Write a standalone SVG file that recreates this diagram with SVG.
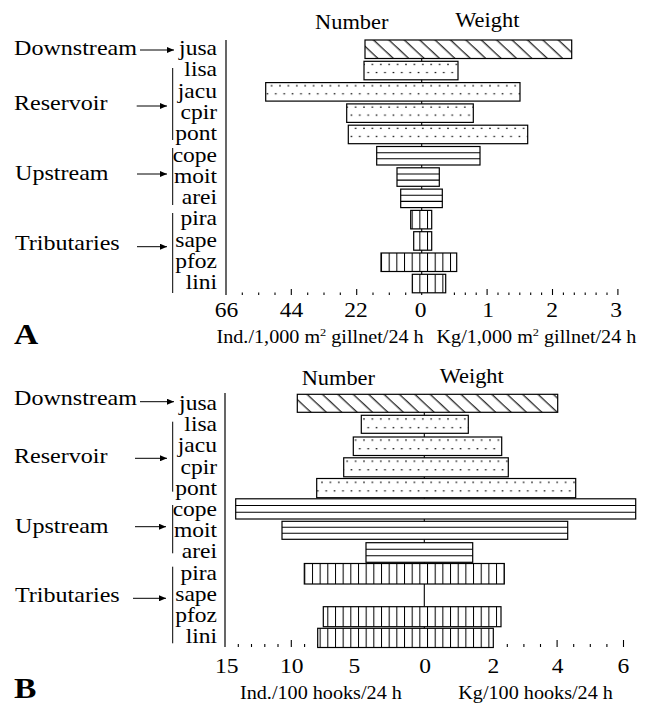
<svg xmlns="http://www.w3.org/2000/svg" width="646" height="704" viewBox="0 0 646 704">
<style>
text{font-family:"Liberation Serif","Times New Roman",serif;fill:#000}
.sp{font-size:21px;text-anchor:end}
.cat{font-size:21.5px}
.hd{font-size:20px;text-anchor:middle}
.tk{font-size:21px;text-anchor:middle}
.ttl{font-size:18px}
.pl{font-size:30px;font-weight:bold}
.bar{stroke:#000;stroke-width:1.2}
.plain{fill:#fff;stroke:#000;stroke-width:1.2}
.ln{stroke:#000;stroke-width:1.1;fill:none}
.axis{stroke:#000;stroke-width:1.2;fill:none}
.tick{stroke:#000;stroke-width:1.1}
.br{stroke:#000;stroke-width:1;fill:none}
.arr{stroke:#000;stroke-width:1;fill:none;marker-end:url(#ah)}
</style>
<defs>
<marker id="ah" markerUnits="userSpaceOnUse" markerWidth="8" markerHeight="6" refX="7" refY="3" orient="auto"><path d="M0,0 L7,3 L0,6 Z" fill="#000"/></marker>
<pattern id="hatch" patternUnits="userSpaceOnUse" width="10.5" height="10.5" patternTransform="rotate(-47)"><rect width="10.5" height="10.5" fill="#fff"/><line x1="5" y1="-1" x2="5" y2="11.5" stroke="#000" stroke-width="1.1"/></pattern>
<pattern id="dotsA" patternUnits="userSpaceOnUse" x="0" y="40" width="8.4" height="21.3"><rect width="8.4" height="21.3" fill="#fff"/><rect x="2" y="2.6" width="1.6" height="1.2" fill="#000"/><rect x="6.2" y="10.6" width="1.6" height="1.2" fill="#000"/></pattern>
<pattern id="dotsB" patternUnits="userSpaceOnUse" x="0" y="394.3" width="8.4" height="21.1"><rect width="8.4" height="21.1" fill="#fff"/><rect x="2" y="3" width="1.6" height="1.2" fill="#000"/><rect x="6.2" y="11.6" width="1.6" height="1.2" fill="#000"/></pattern>
<pattern id="vlA" patternUnits="userSpaceOnUse" x="381" y="0" width="7.67" height="20"><rect width="7.67" height="20" fill="#fff"/><rect x="0" y="0" width="1" height="20" fill="#000"/></pattern>
<pattern id="vlB" patternUnits="userSpaceOnUse" x="304.3" y="0" width="7.67" height="20"><rect width="7.67" height="20" fill="#fff"/><rect x="0" y="0" width="1" height="20" fill="#000"/></pattern>
</defs>
<rect width="646" height="704" fill="#fff"/>

<!-- ================= PANEL A ================= -->
<g id="A-panel">
<text class="pl" transform="matrix(1.12,0,0,1,14,344)">A</text>
<text class="hd" transform="matrix(1.12,0,0,1,351.7,29)">Number</text>
<text class="hd" transform="matrix(1.12,0,0,1,487.3,27)">Weight</text>
</g>

<g id="A-axis">
<line class="axis" x1="226" y1="40" x2="226" y2="295"/>
<line class="ln" x1="421.7" y1="40" x2="421.7" y2="295"/>
<g class="tick">
<line x1="242.3" y1="292.5" x2="242.3" y2="295"/><line x1="258.7" y1="292.5" x2="258.7" y2="295"/><line x1="275" y1="292.5" x2="275" y2="295"/><line x1="291.3" y1="289" x2="291.3" y2="295"/>
<line x1="307.7" y1="292.5" x2="307.7" y2="295"/><line x1="324" y1="292.5" x2="324" y2="295"/><line x1="340.3" y1="292.5" x2="340.3" y2="295"/><line x1="356.7" y1="289" x2="356.7" y2="295"/>
<line x1="373" y1="292.5" x2="373" y2="295"/><line x1="389.3" y1="292.5" x2="389.3" y2="295"/><line x1="405.7" y1="292.5" x2="405.7" y2="295"/>
<line x1="454.4" y1="292.5" x2="454.4" y2="295"/><line x1="465.3" y1="292.5" x2="465.3" y2="295"/><line x1="476.2" y1="292.5" x2="476.2" y2="295"/><line x1="487.1" y1="289" x2="487.1" y2="295"/>
<line x1="498" y1="292.5" x2="498" y2="295"/><line x1="508.9" y1="292.5" x2="508.9" y2="295"/><line x1="519.8" y1="292.5" x2="519.8" y2="295"/><line x1="530.7" y1="292.5" x2="530.7" y2="295"/><line x1="541.6" y1="292.5" x2="541.6" y2="295"/><line x1="552.5" y1="289" x2="552.5" y2="295"/>
<line x1="563.4" y1="292.5" x2="563.4" y2="295"/><line x1="574.3" y1="292.5" x2="574.3" y2="295"/><line x1="585.2" y1="292.5" x2="585.2" y2="295"/><line x1="596.1" y1="292.5" x2="596.1" y2="295"/><line x1="607" y1="292.5" x2="607" y2="295"/><line x1="617.9" y1="289" x2="617.9" y2="295"/>
</g>
<text class="tk" transform="matrix(1.12,0,0,1,226.5,316.5)">66</text>
<text class="tk" transform="matrix(1.12,0,0,1,291.5,316.5)">44</text>
<text class="tk" transform="matrix(1.12,0,0,1,356,316.5)">22</text>
<text class="tk" transform="matrix(1.12,0,0,1,420.5,316.5)">0</text>
<text class="tk" transform="matrix(1.12,0,0,1,488,316.5)">1</text>
<text class="tk" transform="matrix(1.12,0,0,1,552,316.5)">2</text>
<text class="tk" transform="matrix(1.12,0,0,1,616,316.5)">3</text>
<text class="ttl" transform="matrix(1.12,0,0,1,216.5,343)">Ind./1,000 m<tspan font-size="11" dy="-7">2</tspan><tspan dy="7"> gillnet/24 h</tspan></text>
<text class="ttl" transform="matrix(1.12,0,0,1,436.5,343)">Kg/1,000 m<tspan font-size="11" dy="-7">2</tspan><tspan dy="7"> gillnet/24 h</tspan></text>
</g>

<g id="A-groups">
<text class="cat" transform="matrix(1.12,0,0,1,14,55)">Downstream</text>
<text class="cat" transform="matrix(1.12,0,0,1,14,110)">Reservoir</text>
<line class="br" x1="172.7" y1="68" x2="172.7" y2="140"/>
<text class="cat" transform="matrix(1.12,0,0,1,15,180)">Upstream</text>
<line class="br" x1="172.7" y1="148" x2="172.7" y2="205"/>
<text class="cat" transform="matrix(1.12,0,0,1,15,250)">Tributaries</text>
<line class="br" x1="172.7" y1="213" x2="172.7" y2="293"/>
</g>

<g id="A-jusa"><text class="sp" transform="matrix(1.12,0,0,1,217,55)">jusa</text><rect class="bar" x="365" y="40" width="206.7" height="18.5" fill="url(#hatch)"/></g>
<g id="A-lisa"><text class="sp" transform="matrix(1.12,0,0,1,217,76.3)">lisa</text><rect class="bar" x="364" y="61.3" width="94" height="18.5" fill="url(#dotsA)"/></g>
<g id="A-jacu"><text class="sp" transform="matrix(1.12,0,0,1,217,97.6)">jacu</text><rect class="bar" x="265.7" y="82.6" width="254.3" height="18.5" fill="url(#dotsA)"/></g>
<g id="A-cpir"><text class="sp" transform="matrix(1.12,0,0,1,217,118.9)">cpir</text><rect class="bar" x="346.7" y="103.9" width="126.6" height="18.5" fill="url(#dotsA)"/></g>
<g id="A-pont"><text class="sp" transform="matrix(1.12,0,0,1,217,140.2)">pont</text><rect class="bar" x="348.3" y="125.2" width="179.4" height="18.5" fill="url(#dotsA)"/></g>
<g id="A-cope"><text class="sp" transform="matrix(1.12,0,0,1,217,161.5)">cope</text><rect class="plain" x="376.7" y="146.5" width="103.3" height="18.5"/><line class="ln" x1="376.7" y1="152.7" x2="480" y2="152.7"/><line class="ln" x1="376.7" y1="158.8" x2="480" y2="158.8"/></g>
<g id="A-moit"><text class="sp" transform="matrix(1.12,0,0,1,217,182.8)">moit</text><rect class="plain" x="397" y="167.8" width="42.3" height="18.5"/><line class="ln" x1="397" y1="174" x2="439.3" y2="174"/><line class="ln" x1="397" y1="180.1" x2="439.3" y2="180.1"/></g>
<g id="A-arei"><text class="sp" transform="matrix(1.12,0,0,1,217,204.1)">arei</text><rect class="plain" x="400.7" y="189.1" width="41.6" height="18.5"/><line class="ln" x1="400.7" y1="195.3" x2="442.3" y2="195.3"/><line class="ln" x1="400.7" y1="201.4" x2="442.3" y2="201.4"/></g>
<g id="A-pira"><text class="sp" transform="matrix(1.12,0,0,1,217,225.4)">pira</text><rect class="bar" x="410.7" y="210.4" width="21" height="18.5" fill="url(#vlA)"/></g>
<g id="A-sape"><text class="sp" transform="matrix(1.12,0,0,1,217,246.7)">sape</text><rect class="bar" x="413.7" y="231.7" width="18" height="18.5" fill="url(#vlA)"/></g>
<g id="A-pfoz"><text class="sp" transform="matrix(1.12,0,0,1,217,268)">pfoz</text><rect class="bar" x="381" y="253" width="75.7" height="18.5" fill="url(#vlA)"/></g>
<g id="A-lini"><text class="sp" transform="matrix(1.12,0,0,1,217,289.3)">lini</text><rect class="bar" x="412.3" y="274.3" width="33.4" height="18.5" fill="url(#vlA)"/></g>

<!-- ================= PANEL B ================= -->
<g id="B-panel">
<text class="pl" transform="matrix(1.12,0,0,1,14,698)">B</text>
<text class="hd" transform="matrix(1.12,0,0,1,338.3,385)">Number</text>
<text class="hd" transform="matrix(1.12,0,0,1,471.7,383)">Weight</text>
</g>

<g id="B-axis">
<line class="axis" x1="225" y1="393" x2="225" y2="647"/>
<line class="ln" x1="424.3" y1="394" x2="424.3" y2="647"/>
<g class="tick">
<line x1="238.3" y1="644" x2="238.3" y2="647"/><line x1="251.5" y1="644" x2="251.5" y2="647"/><line x1="264.8" y1="644" x2="264.8" y2="647"/><line x1="278" y1="644" x2="278" y2="647"/><line x1="291.3" y1="640" x2="291.3" y2="647"/>
<line x1="304.6" y1="644" x2="304.6" y2="647"/><line x1="317.8" y1="644" x2="317.8" y2="647"/><line x1="331.1" y1="644" x2="331.1" y2="647"/><line x1="344.4" y1="644" x2="344.4" y2="647"/><line x1="357.6" y1="640" x2="357.6" y2="647"/>
<line x1="370.9" y1="644" x2="370.9" y2="647"/><line x1="384.1" y1="644" x2="384.1" y2="647"/><line x1="397.4" y1="644" x2="397.4" y2="647"/><line x1="410.7" y1="644" x2="410.7" y2="647"/>
<line x1="440.9" y1="644" x2="440.9" y2="647"/><line x1="457.5" y1="644" x2="457.5" y2="647"/><line x1="474.1" y1="644" x2="474.1" y2="647"/><line x1="490.7" y1="640" x2="490.7" y2="647"/>
<line x1="507.3" y1="644" x2="507.3" y2="647"/><line x1="523.9" y1="644" x2="523.9" y2="647"/><line x1="540.5" y1="644" x2="540.5" y2="647"/><line x1="557.1" y1="640" x2="557.1" y2="647"/>
<line x1="573.7" y1="644" x2="573.7" y2="647"/><line x1="590.3" y1="644" x2="590.3" y2="647"/><line x1="606.9" y1="644" x2="606.9" y2="647"/><line x1="623.5" y1="640" x2="623.5" y2="647"/>
</g>
<text class="tk" transform="matrix(1.12,0,0,1,226.7,673)">15</text>
<text class="tk" transform="matrix(1.12,0,0,1,291.7,673)">10</text>
<text class="tk" transform="matrix(1.12,0,0,1,354.3,673)">5</text>
<text class="tk" transform="matrix(1.12,0,0,1,425,673)">0</text>
<text class="tk" transform="matrix(1.12,0,0,1,493.3,673)">2</text>
<text class="tk" transform="matrix(1.12,0,0,1,557.7,673)">4</text>
<text class="tk" transform="matrix(1.12,0,0,1,623.3,673)">6</text>
<text class="ttl" transform="matrix(1.12,0,0,1,240,699)">Ind./100 hooks/24 h</text>
<text class="ttl" transform="matrix(1.12,0,0,1,458.3,699)">Kg/100 hooks/24 h</text>
</g>

<g id="B-groups">
<text class="cat" transform="matrix(1.12,0,0,1,14,405)">Downstream</text>
<text class="cat" transform="matrix(1.12,0,0,1,14,463.3)">Reservoir</text>
<line class="br" x1="172.7" y1="421.7" x2="172.7" y2="491.7"/>
<text class="cat" transform="matrix(1.12,0,0,1,15,533)">Upstream</text>
<line class="br" x1="172.7" y1="505" x2="172.7" y2="553.3"/>
<text class="cat" transform="matrix(1.12,0,0,1,15,601.7)">Tributaries</text>
<line class="br" x1="172.7" y1="566.7" x2="172.7" y2="643.3"/>
</g>

<g id="B-jusa"><text class="sp" transform="matrix(1.12,0,0,1,217,410)">jusa</text><rect class="bar" x="297.3" y="394.3" width="260.4" height="18" fill="url(#hatch)"/></g>
<g id="B-lisa"><text class="sp" transform="matrix(1.12,0,0,1,217,431.2)">lisa</text><rect class="bar" x="361.3" y="415.3" width="107" height="18" fill="url(#dotsB)"/></g>
<g id="B-jacu"><text class="sp" transform="matrix(1.12,0,0,1,217,452.4)">jacu</text><rect class="bar" x="353.3" y="437" width="148.4" height="18.5" fill="url(#dotsB)"/></g>
<g id="B-cpir"><text class="sp" transform="matrix(1.12,0,0,1,217,473.6)">cpir</text><rect class="bar" x="343.7" y="457.8" width="164.6" height="19" fill="url(#dotsB)"/></g>
<g id="B-pont"><text class="sp" transform="matrix(1.12,0,0,1,217,494.8)">pont</text><rect class="bar" x="316.7" y="478.5" width="259" height="19.2" fill="url(#dotsB)"/></g>
<g id="B-cope"><text class="sp" transform="matrix(1.12,0,0,1,217,516)">cope</text><rect class="plain" x="235.7" y="498.8" width="400" height="20.2"/><line class="ln" x1="235.7" y1="505.5" x2="635.7" y2="505.5"/><line class="ln" x1="235.7" y1="512.2" x2="635.7" y2="512.2"/></g>
<g id="B-moit"><text class="sp" transform="matrix(1.12,0,0,1,217,537.2)">moit</text><rect class="plain" x="282" y="521.3" width="285.7" height="18"/><line class="ln" x1="282" y1="527.3" x2="567.7" y2="527.3"/><line class="ln" x1="282" y1="533.3" x2="567.7" y2="533.3"/></g>
<g id="B-arei"><text class="sp" transform="matrix(1.12,0,0,1,217,558.4)">arei</text><rect class="plain" x="366" y="542.7" width="106.7" height="19.6"/><line class="ln" x1="366" y1="549.2" x2="472.7" y2="549.2"/><line class="ln" x1="366" y1="555.8" x2="472.7" y2="555.8"/></g>
<g id="B-pira"><text class="sp" transform="matrix(1.12,0,0,1,217,579.6)">pira</text><rect class="bar" x="304.3" y="563.5" width="200" height="20.5" fill="url(#vlB)"/></g>
<g id="B-sape"><text class="sp" transform="matrix(1.12,0,0,1,217,600.8)">sape</text></g>
<g id="B-pfoz"><text class="sp" transform="matrix(1.12,0,0,1,217,622)">pfoz</text><rect class="bar" x="323.3" y="606.7" width="177.7" height="20" fill="url(#vlB)"/></g>
<g id="B-lini"><text class="sp" transform="matrix(1.12,0,0,1,217,643.2)">lini</text><rect class="bar" x="317.7" y="628.3" width="175.6" height="19.2" fill="url(#vlB)"/></g>

<g id="connectors">
<line class="arr" x1="140" y1="50" x2="174" y2="50"/>
<line class="arr" x1="136.7" y1="106" x2="167" y2="106"/>
<line class="arr" x1="137" y1="174" x2="167" y2="174"/>
<line class="arr" x1="137" y1="246.7" x2="167" y2="246.7"/>
<line class="arr" x1="140" y1="401.7" x2="174" y2="401.7"/>
<line class="arr" x1="135" y1="458.3" x2="167" y2="458.3"/>
<line class="arr" x1="135" y1="526.7" x2="166" y2="526.7"/>
<line class="arr" x1="133" y1="598.3" x2="166" y2="598.3"/>
</g>
</svg>
